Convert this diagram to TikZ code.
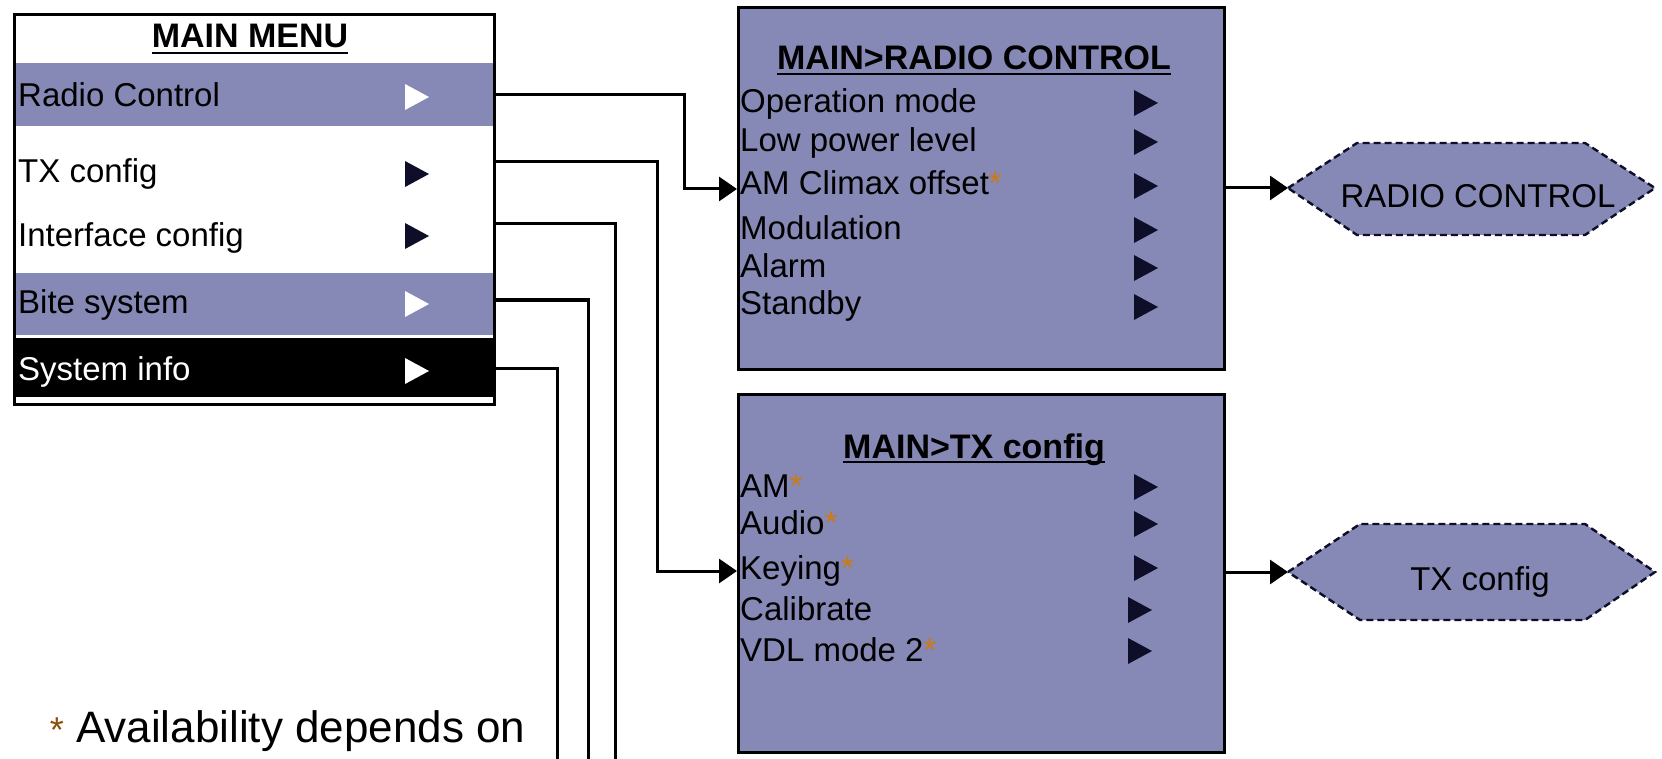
\documentclass[tikz,border=0pt]{standalone}
\usepackage{fontspec}
\setmainfont{Liberation Sans}
\usetikzlibrary{arrows.meta}
\definecolor{mpurple}{RGB}{134,136,182}
\definecolor{navy}{RGB}{14,14,40}
\definecolor{ast}{RGB}{204,122,20}
\definecolor{astb}{RGB}{140,80,10}
\newcommand{\myast}{\textcolor{ast}{*}}
\begin{document}
\begin{tikzpicture}[x=1pt,y=-1pt,
  item/.style={anchor=base west,inner sep=0pt,font=\fontsize{33}{36}\selectfont},
  ttl/.style={anchor=base,inner sep=0pt,font=\bfseries\fontsize{34}{37}\selectfont},
  hextext/.style={anchor=base,inner sep=0pt,font=\fontsize{33}{36}\selectfont},
  band/.style={inner sep=0pt,minimum width=481pt},
  boxx/.style={draw=black,line width=3pt,fill=mpurple,inner sep=0pt,minimum width=486pt},
  conn/.style={line width=3pt},
  arr/.style={conn,-{Triangle[length=18pt,width=24pt]}},
  tri/.pic={\fill[#1] (0,-13) -- (24,0) -- (0,13) -- cycle;},
  hexa/.style={fill=mpurple,draw=navy,line width=2.4pt,dash pattern=on 7pt off 4pt},
]
\useasboundingbox (0,0) rectangle (1662,759);
\fill[white] (0,0) rectangle (1662,759);

% ---------- main menu ----------
\node[band,fill=mpurple,minimum height=63pt] (bRC) at (254.5,94.5) {};
\node[band,fill=mpurple,minimum height=62pt] (bBS) at (254.5,304) {};
\node[band,fill=black,minimum height=59pt] (bSI) at (254.5,367.5) {};
\node[draw=black,line width=3pt,inner sep=0pt,minimum width=480pt,minimum height=390pt] (menu) at (254.5,209.5) {};

\node[ttl] (t0) at (250,48) {MAIN MENU};
\draw[line width=2.5pt] ([yshift=-5pt]t0.base west) -- ([yshift=-5pt]t0.base east);

\node[item] (m1) at (18,107) {Radio Control};
\node[item] (m2) at (18,183) {TX config};
\node[item] (m3) at (18,247) {Interface config};
\node[item] (m4) at (18,313) {Bite system};
\node[item,text=white] (m5) at (18,380) {System info};
\pic at (405,97) {tri=white};
\pic at (405,174) {tri=navy};
\pic at (405,236) {tri=navy};
\pic at (405,304) {tri=white};
\pic at (405,371) {tri=white};

% ---------- radio control box ----------
\node[boxx,minimum height=362pt] (rcbox) at (981.5,188.5) {};
\node[ttl] (t1) at (974,70) {MAIN>RADIO CONTROL};
\draw[line width=2.5pt] ([yshift=-4pt]t1.base west) -- ([yshift=-4pt]t1.base east);
\node[item] (r1) at (740,113) {Operation mode};
\node[item] (r2) at (740,152) {Low power level};
\node[item] (r3) at (740,195) {AM Climax offset\myast};
\node[item] (r4) at (740,240) {Modulation};
\node[item] (r5) at (740,278) {Alarm};
\node[item] (r6) at (740,315) {Standby};
\foreach \yy in {103,142,186,230,268,307} {\pic at (1134,\yy) {tri=navy};}

% ---------- TX config box ----------
\node[boxx,minimum height=358pt] (txbox) at (981.5,573.5) {};
\node[ttl] (t2) at (974,458) {MAIN>TX config};
\draw[line width=2.5pt] ([yshift=-4pt]t2.base west) -- ([yshift=-4pt]t2.base east);
\node[item] (x1) at (740,497) {AM\myast};
\node[item] (x2) at (740,534) {Audio\myast};
\node[item] (x3) at (740,579) {Keying\myast};
\node[item] (x4) at (740,620) {Calibrate};
\node[item] (x5) at (740,661) {VDL mode 2\myast};
\foreach \yy in {487,524,568} {\pic at (1134,\yy) {tri=navy};}
\foreach \yy in {610,651} {\pic at (1128,\yy) {tri=navy};}

% ---------- hexagons ----------
\draw[hexa] (1288,188) -- (1357,143) -- (1585,143) -- (1655,188) -- (1585,235) -- (1357,235) -- cycle;
\coordinate (hx1) at (1288,188);
\node[hextext] (h1) at (1478,208) {RADIO CONTROL};
\draw[hexa] (1288,572) -- (1360,524) -- (1585,524) -- (1655,572) -- (1585,620) -- (1360,620) -- cycle;
\coordinate (hx2) at (1288,572);
\node[hextext] (h2) at (1480,590) {TX config};

% ---------- footnote ----------
\node[anchor=base west,inner sep=0pt,font=\fontsize{44}{47}\selectfont] (fn) at (76,742) {Availability depends on};
\node[anchor=base east,inner sep=0pt,font=\fontsize{36}{40}\selectfont,text=astb] (fa) at ([xshift=-12pt]fn.base west) {*};

% ---------- connectors ----------
\coordinate (e1) at (615,759);
\coordinate (e2) at (588,759);
\coordinate (e3) at (557,759);
\draw[arr] (menu.east |- 0,95) -- (684,95) |- (rcbox.west |- 0,189);
\draw[arr] (menu.east |- 0,162) -- (657,162) |- (txbox.west |- 0,571);
\draw[conn] (menu.east |- 0,224) -| (e1);
\draw[conn] (menu.east |- 0,300) -| (e2);
\draw[conn] (menu.east |- 0,368) -| (e3);
\draw[arr] (rcbox.east |- hx1) -- (hx1);
\draw[arr] (txbox.east |- hx2) -- (hx2);
\end{tikzpicture}
\end{document}
